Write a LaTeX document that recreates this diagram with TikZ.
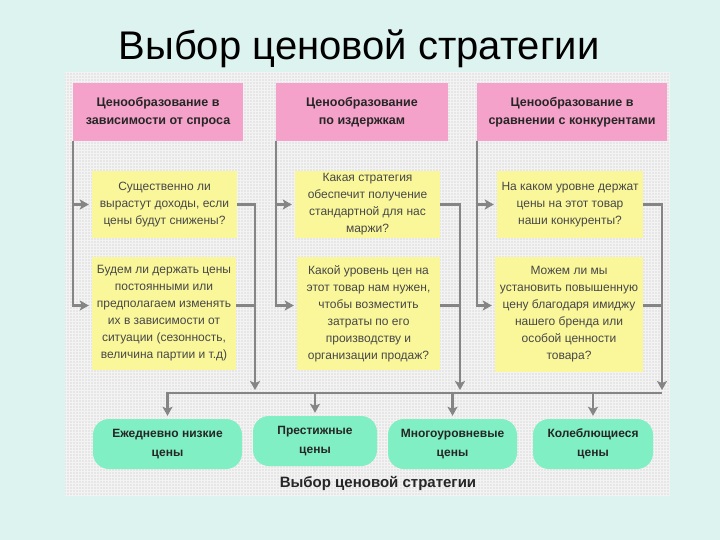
\documentclass[tikz,border=0pt]{standalone}
\usepackage{fontspec}
\setmainfont{Liberation Sans}
\usetikzlibrary{arrows.meta}

\definecolor{slidebg}{HTML}{DCF3F0}
\definecolor{panelbg}{HTML}{E6E6E6}
\definecolor{panelgrid}{HTML}{F3F3F3}
\definecolor{pinkbox}{HTML}{F5A2CA}
\definecolor{yellowbox}{HTML}{FAF79B}
\definecolor{greenbox}{HTML}{80EFC4}
\definecolor{wiregray}{HTML}{858585}

\tikzset{
  hdr/.style={fill=pinkbox, text=black!85, font=\bfseries\fontsize{12.5}{18}\selectfont, align=center, inner sep=0pt},
  ask/.style={fill=yellowbox, text=black!72, font=\fontsize{12}{17}\selectfont, align=center, inner sep=0pt},
  res/.style={fill=greenbox, rounded corners=16pt, text=black!85, font=\bfseries\fontsize{12}{19}\selectfont, align=center, inner sep=0pt},
  wire/.style={draw=wiregray, line width=2.6pt},
  tip/.style={-{Stealth[length=9pt,width=10pt,inset=2pt]}, shorten >=3pt},
}

\begin{document}
\begin{tikzpicture}[x=1pt, y=-1pt]
  \fill[slidebg] (0,0) rectangle (720,540);
  \fill[panelbg] (65,72) rectangle (670,495);
  \draw[panelgrid, line width=0.8pt, step=3pt] (65,72) grid (670,495);
  \node[font=\fontsize{40}{48}\selectfont, anchor=base] (title) at (359,60) {Выбор ценовой стратегии};

  \node[hdr, minimum width=170pt, minimum height=58pt] (p1) at (158,112) {Ценообразование в\\зависимости от спроса};
  \node[hdr, minimum width=172pt, minimum height=58pt] (p2) at (362,112) {Ценообразование\\по издержкам};
  \node[hdr, minimum width=190pt, minimum height=58pt] (p3) at (572,112) {Ценообразование в\\сравнении с конкурентами};

  \node[ask, minimum width=145pt, minimum height=67pt] (y11) at (164.5,204.5) {Существенно ли\\вырастут доходы, если\\цены будут снижены?};
  \node[ask, minimum width=145pt, minimum height=67pt] (y12) at (367.5,204.5) {Какая стратегия\\обеспечит получение\\стандартной для нас\\маржи?};
  \node[ask, minimum width=146pt, minimum height=67pt] (y13) at (570,204.5) {На каком уровне держат\\цены на этот товар\\наши конкуренты?};
  \node[ask, minimum width=144pt, minimum height=113pt] (y21) at (164,313.5) {Будем ли держать цены\\постоянными или\\предполагаем изменять\\их в зависимости от\\ситуации (сезонность,\\величина партии и т.д)};
  \node[ask, minimum width=143pt, minimum height=113pt] (y22) at (368.5,313.5) {Какой уровень цен на\\этот товар нам нужен,\\чтобы возместить\\затраты по его\\производству и\\организации продаж?};
  \node[ask, minimum width=148pt, minimum height=115pt] (y23) at (569,314.5) {Можем ли мы\\установить повышенную\\цену благодаря имиджу\\нашего бренда или\\особой ценности\\товара?};

  \node[res, minimum width=149pt, minimum height=50pt] (g1) at (167.5,444) {Ежедневно низкие\\цены};
  \node[res, minimum width=124pt, minimum height=50pt] (g2) at (315,441) {Престижные\\цены};
  \node[res, minimum width=129pt, minimum height=50pt] (g3) at (452.5,444) {Многоуровневые\\цены};
  \node[res, minimum width=120pt, minimum height=50pt] (g4) at (593,444) {Колеблющиеся\\цены};

  \node[font=\bfseries\fontsize{15}{18}\selectfont, text=black!85, anchor=base] (caption) at (378,487) {Выбор ценовой стратегии};

  \coordinate (c1) at (255,393);
  \coordinate (c2) at (460,393);
  \coordinate (c3) at (662,393);

  \draw[wire, tip] (p1.south west) |- ([yshift=8pt]y21.west);
  \draw[wire, tip] (p1.south west |- y11.west) -- (y11.west);
  \draw[wire, tip] (p2.south west) |- ([yshift=8pt]y22.west);
  \draw[wire, tip] (p2.south west |- y12.west) -- (y12.west);
  \draw[wire, tip] (p3.south west) |- ([yshift=9pt]y23.west);
  \draw[wire, tip] (p3.south west |- y13.west) -- (y13.west);

  \draw[wire, tip] (y11.east) -| (c1);
  \draw[wire] ([yshift=8pt]y21.east) -- ([yshift=8pt]y21.east -| c1);
  \draw[wire, tip] (y12.east) -| (c2);
  \draw[wire] ([yshift=8pt]y22.east) -- ([yshift=8pt]y22.east -| c2);
  \draw[wire, tip] (y13.east) -| (c3);
  \draw[wire] ([yshift=9pt]y23.east) -- ([yshift=9pt]y23.east -| c3);

  \draw[wire, tip] (c3) -- (g1.north |- c3) -- (g1.north);
  \draw[wire, tip] (g2.north |- c3) -- (g2.north);
  \draw[wire, tip] (g3.north |- c3) -- (g3.north);
  \draw[wire, tip] (g4.north |- c3) -- (g4.north);
\end{tikzpicture}
\end{document}
